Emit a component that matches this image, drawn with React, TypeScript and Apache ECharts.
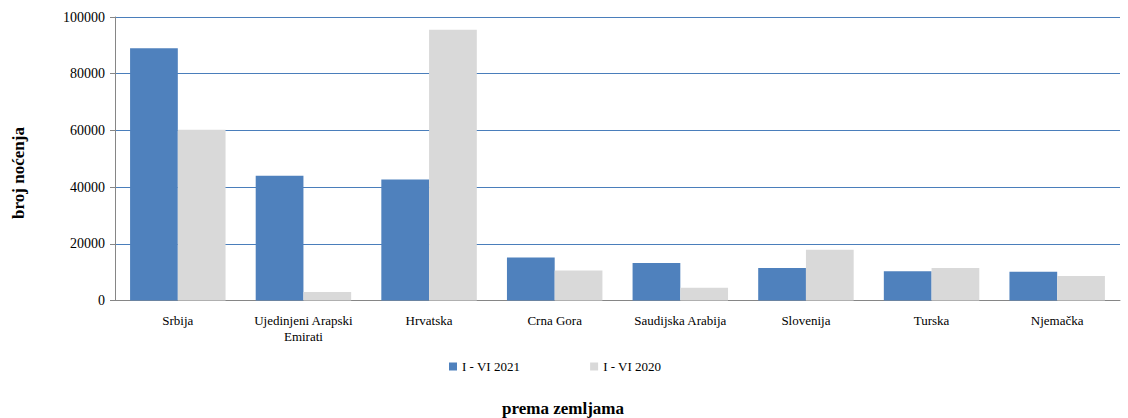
import React, { useEffect, useRef } from "react";
import * as echarts from "echarts";

const categories = [
  "Srbija",
  "Ujedinjeni Arapski\nEmirati",
  "Hrvatska",
  "Crna Gora",
  "Saudijska Arabija",
  "Slovenija",
  "Turska",
  "Njemačka",
];
const series2021 = [89000, 44000, 42700, 15200, 13200, 11500, 10300, 10100];
const series2020 = [60200, 3000, 95500, 10600, 4500, 17900, 11500, 8600];
const seriesNames = ["I - VI 2021", "I - VI 2020"];
const yTicks = { min: 0, max: 100000, interval: 20000 };
const yTitle = "broj noćenja";
const xTitle = "prema zemljama";

const FONT = "Liberation Serif";

export default function App() {
  const ref = useRef<HTMLDivElement>(null);
  useEffect(() => {
    if (!ref.current) return;
    const chart = echarts.init(ref.current, undefined, { renderer: "svg" });
    chart.setOption({
      animation: false,
      backgroundColor: "#ffffff",
      textStyle: { fontFamily: FONT },
      grid: { left: 115, right: 8, top: 17, bottom: 117.5, containLabel: false },
      legend: {
        data: seriesNames,
        left: 444,
        top: 355,
        itemWidth: 8,
        itemHeight: 8,
        itemGap: 70,
        icon: "rect",
        textStyle: { fontFamily: FONT, fontSize: 13, color: "#000" },
      },
      graphic: [
        {
          type: "text",
          x: 18,
          y: 173,
          rotation: Math.PI / 2,
          style: {
            text: yTitle,
            fontFamily: FONT,
            fontSize: 17,
            fontWeight: "bold",
            fill: "#000",
            align: "center",
            verticalAlign: "middle",
          },
        },
        {
          type: "text",
          x: 563,
          y: 408,
          style: {
            text: xTitle,
            fontFamily: FONT,
            fontSize: 17,
            fontWeight: "bold",
            fill: "#000",
            align: "center",
            verticalAlign: "middle",
          },
        },
      ],
      xAxis: {
        type: "category",
        data: categories,
        axisLine: { lineStyle: { color: "#868686", width: 1 } },
        axisTick: { show: false },
        axisLabel: {
          fontFamily: FONT,
          fontSize: 13,
          color: "#000",
          margin: 12,
          lineHeight: 16,
          interval: 0,
        },
      },
      yAxis: {
        type: "value",
        min: yTicks.min,
        max: yTicks.max,
        interval: yTicks.interval,
        axisLine: { show: true, lineStyle: { color: "#868686", width: 1 } },
        axisTick: { show: true, length: 5, lineStyle: { color: "#868686" } },
        splitLine: { lineStyle: { color: "#4A7EBB", width: 1 } },
        axisLabel: { fontFamily: FONT, fontSize: 14, color: "#000", margin: 10, formatter: (v: number) => String(v) },
      },
      series: [
        {
          name: seriesNames[0],
          type: "bar",
          data: series2021,
          itemStyle: { color: "#4F81BD" },
          barGap: "0%",
          barCategoryGap: "24%",
        },
        {
          name: seriesNames[1],
          type: "bar",
          data: series2020,
          itemStyle: { color: "#D9D9D9" },
          barGap: "0%",
          barCategoryGap: "24%",
        },
      ],
    });
    return () => chart.dispose();
  }, []);
  return <div ref={ref} style={{ width: 1128, height: 418, position: "absolute", left: 0, top: 0 }} />;
}
